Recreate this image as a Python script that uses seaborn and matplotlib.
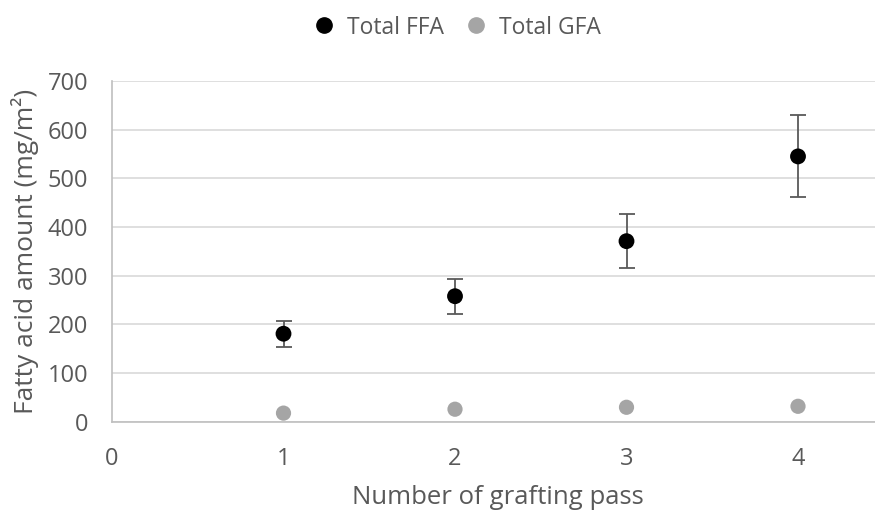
import matplotlib.pyplot as plt
import matplotlib.lines as mlines
import pandas as pd
import seaborn as sns

passes = [1, 2, 3, 4]
ffa_mean = [181, 258, 371, 545]
ffa_err = [27, 36, 55, 84]
gfa_mean = [18, 26, 30, 32]

TEXT = '#595959'
FFA_COLOR = '#000000'
GFA_COLOR = '#a5a5a5'


def main():
    sns.set_style('white')
    plt.rcParams['font.family'] = ['Open Sans', 'DejaVu Sans']

    df = pd.DataFrame({'pass': passes, 'ffa': ffa_mean, 'err': ffa_err, 'gfa': gfa_mean})

    fig = plt.figure(figsize=(8.75, 5.12), dpi=100)
    # chart area runs a little past the right edge, as in the cropped original
    ax = fig.add_axes([0.128, 0.176, 0.882, 0.666])

    ax.errorbar(df['pass'], df['ffa'], yerr=df['err'], fmt='none',
                ecolor='#595959', elinewidth=1.3, capsize=6, capthick=1.3, zorder=2)
    sns.scatterplot(x='pass', y='ffa', data=df, ax=ax, color=FFA_COLOR, s=130,
                    edgecolor='none', zorder=3)
    sns.scatterplot(x='pass', y='gfa', data=df, ax=ax, color=GFA_COLOR, s=120,
                    edgecolor='none', zorder=3)

    ax.set_xlim(0, 4.5)
    ax.set_ylim(0, 700)
    ax.set_xticks([0, 1, 2, 3, 4])
    ax.set_yticks(range(0, 701, 100))
    ax.yaxis.grid(True, color='#d9d9d9', linewidth=1.2)
    ax.xaxis.grid(False)
    ax.set_axisbelow(True)
    for side in ['top', 'right']:
        ax.spines[side].set_visible(False)
    for side in ['left', 'bottom']:
        ax.spines[side].set_color('#bfbfbf')
        ax.spines[side].set_linewidth(1.2)
    ax.tick_params(axis='both', length=0, labelsize=17, colors=TEXT)
    ax.tick_params(axis='x', pad=18)
    ax.tick_params(axis='y', pad=17)

    ax.set_xlabel('Number of grafting pass', fontsize=18.5, color=TEXT, labelpad=10)
    ax.set_ylabel('Fatty acid amount (mg/m²)', fontsize=19, color=TEXT, labelpad=6)

    handles = [
        mlines.Line2D([], [], marker='o', linestyle='none', color=FFA_COLOR, markersize=11),
        mlines.Line2D([], [], marker='o', linestyle='none', color=GFA_COLOR, markersize=11),
    ]
    fig.legend(handles, ['Total FFA', 'Total GFA'], loc='upper center',
               bbox_to_anchor=(0.515, 1.01), ncol=2, frameon=False, fontsize=16.5,
               labelcolor=TEXT, handletextpad=0.0, columnspacing=0.4)

    fig.savefig('out.png', dpi=100)


if __name__ == "__main__":
    main()
